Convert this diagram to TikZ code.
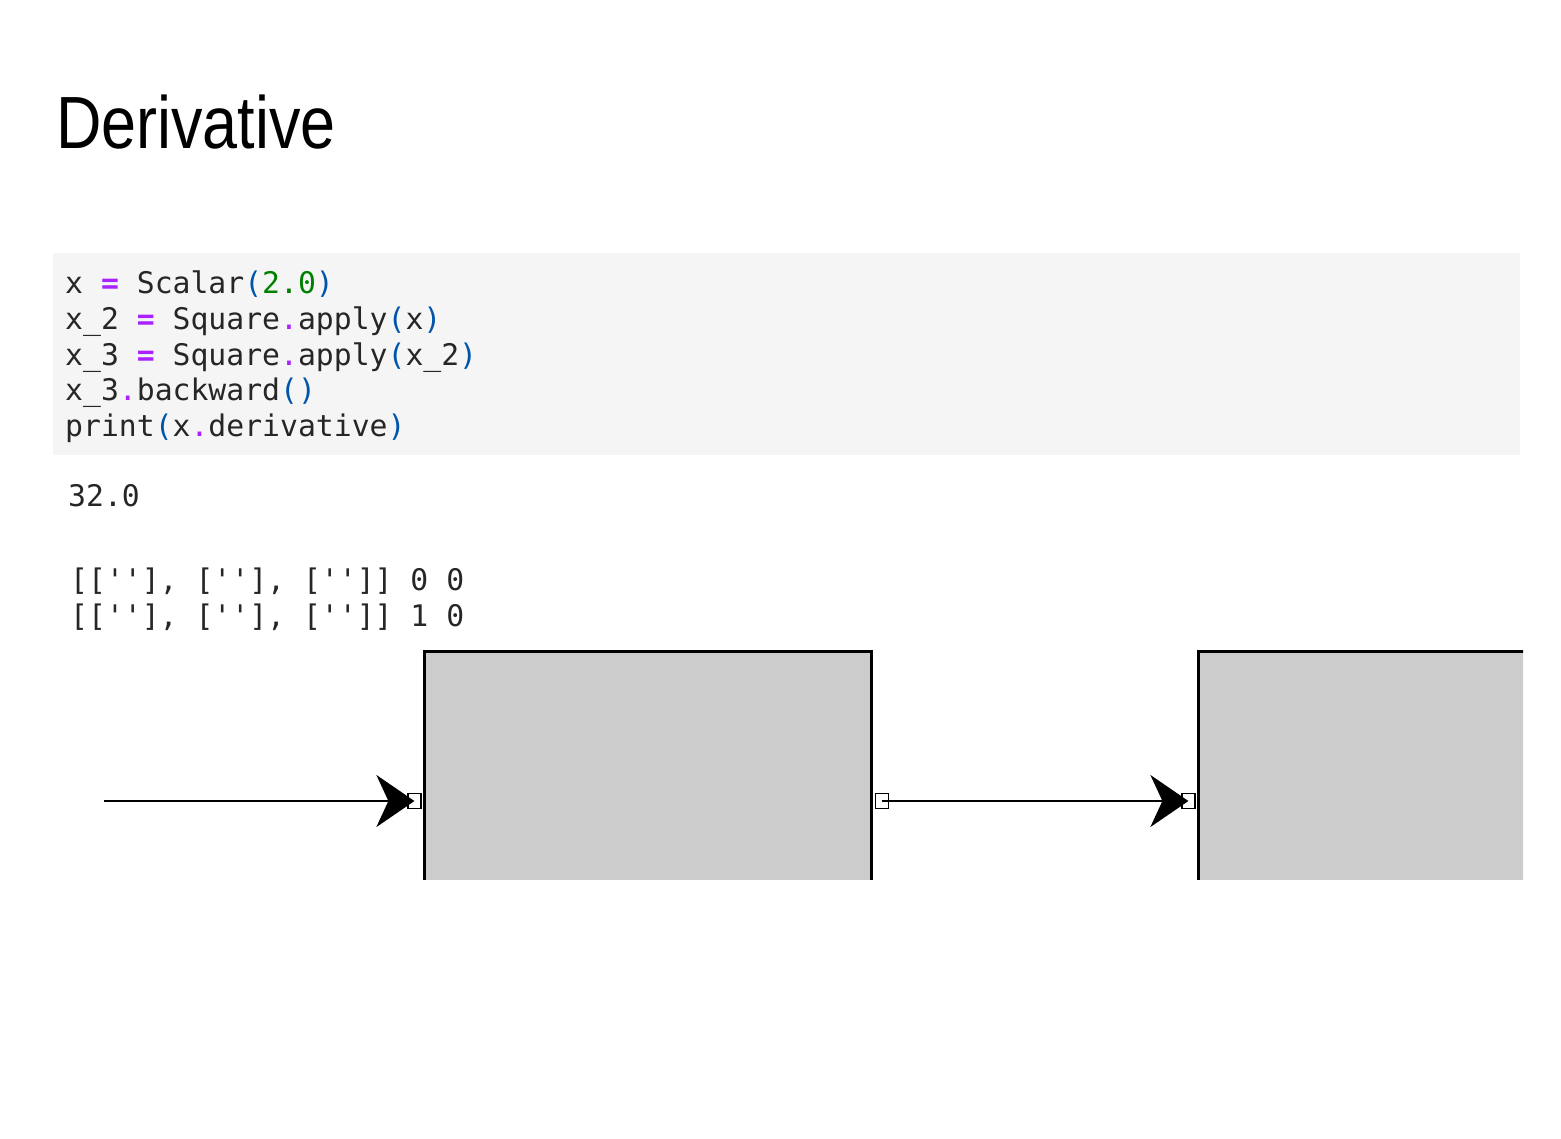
\documentclass[tikz,border=0pt]{standalone}
\usepackage{fontspec}
\setmonofont{DejaVu Sans Mono}
\newfontfamily\titlefont[FakeStretch=0.85]{Liberation Sans}
\usepackage{tikz}
\usetikzlibrary{positioning}
\usetikzlibrary{arrows.meta}
\definecolor{opcol}{HTML}{AA22FF}
\definecolor{numcol}{HTML}{008000}
\definecolor{puncol}{HTML}{0055AA}
\definecolor{codebg}{HTML}{F5F5F5}
\definecolor{boxgray}{HTML}{CCCCCC}
\newcommand{\op}[1]{\textcolor{opcol}{\textbf{#1}}}
\newcommand{\dt}{\textcolor{opcol}{.}}
\newcommand{\pn}[1]{\textcolor{puncol}{#1}}
\newcommand{\nm}[1]{\textcolor{numcol}{#1}}
\tikzset{
  codeline/.style={anchor=base west, inner sep=0pt,
    font=\ttfamily\fontsize{29.75}{35.8}\selectfont, text=black!85},
  fnbox/.style={draw, line width=3pt, fill=boxgray, minimum width=447pt,
    minimum height=299pt, inner sep=0pt},
  port/.style={draw, line width=1.2pt, fill=white, minimum width=13pt,
    minimum height=14.5pt, inner sep=0pt},
  wire/.style={line width=2pt, -{Stealth[length=38pt, width=52pt, inset=12pt]}}
}

\begin{document}
\begin{tikzpicture}[x=1pt, y=-1pt]

\useasboundingbox (0,0) rectangle (1561,1138);

% Title
\node[anchor=base west, inner sep=0pt, font=\titlefont\fontsize{74}{80}\selectfont]
  (title) at (56,148) {Derivative};

% Code cell
\fill[codebg] (53,253) rectangle (1520,455);
\node[codeline] (c1) at (65,293) {x \op{=} Scalar\pn{(}\nm{2.0}\pn{)}};
\node[codeline] (c2) at (65,329) {x\_2 \op{=} Square\dt apply\pn{(}x\pn{)}};
\node[codeline] (c3) at (65,365) {x\_3 \op{=} Square\dt apply\pn{(}x\_2\pn{)}};
\node[codeline] (c4) at (65,400) {x\_3\dt backward\pn{()}};
\node[codeline] (c5) at (65,436) {print\pn{(}x\dt derivative\pn{)}};

% Output
\node[codeline] (out) at (68,506) {32.0};
\node[codeline] (row1) at (70,590) {[[''], [''], ['']] 0 0};
\node[codeline] (row2) at (70,626) {[[''], [''], ['']] 1 0};

% Graph
\begin{scope}
  \clip (0,0) rectangle (1523,879);
  \node[fnbox] (sq1) at (648,801) {};
  \node[fnbox] (sq2) at (1422,801) {};
  \node[port, anchor=east] (sq1in) at ([xshift=-1.5pt]sq1.west) {};
  \node[port, anchor=west] (sq1out) at ([xshift=1.5pt]sq1.east) {};
  \node[port, anchor=east] (sq2in) at ([xshift=-1.5pt]sq2.west) {};
  \coordinate (xin) at (104,801);
  \draw[wire] (xin) -- (sq1in.center);
  \draw[wire] (sq1out.center) -- (sq2in.center);
\end{scope}

\end{tikzpicture}
\end{document}
